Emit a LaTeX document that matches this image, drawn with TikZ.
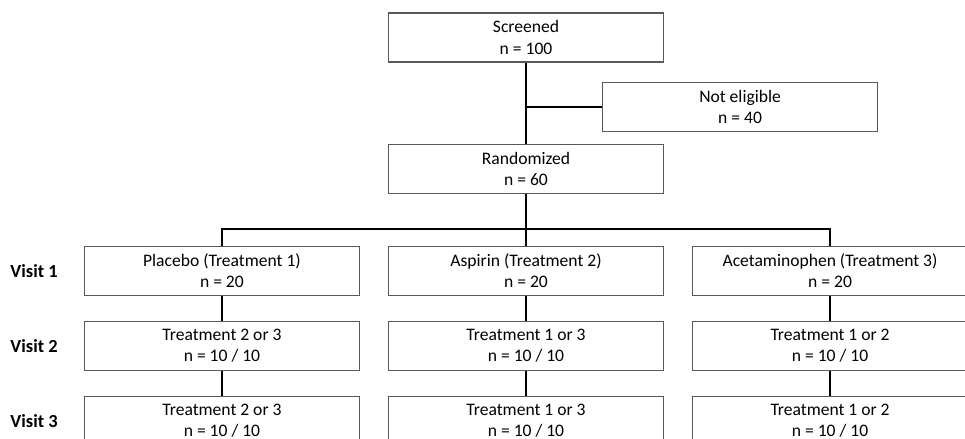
\documentclass[tikz,border=0pt]{standalone}
\usepackage{fontspec}
\setmainfont{Carlito}
\usetikzlibrary{positioning}

\tikzset{
  box/.style={draw=black!65, line width=0.6pt, minimum width=5.5cm, minimum height=0.98cm,
    align=center, inner sep=2pt, font=\fontsize{10}{12}\selectfont},
  link/.style={line width=1.1pt},
  visit/.style={font=\fontsize{10.5}{12}\selectfont\bfseries}
}

\begin{document}
\begin{tikzpicture}
\useasboundingbox (0,0) rectangle (19.3,-8.78);

% enrolment
\node[box] (screened) at (10.52,-0.75) {Screened\\n = 100};
\node[box, below right=0.38cm and -1.24cm of screened] (noteligible) {Not eligible\\n = 40};
\node[box, below=1.62cm of screened] (random) {Randomized\\n = 60};

% visit 1
\node[box, below=1.04cm of random] (aspirin1) {Aspirin (Treatment 2)\\n = 20};
\node[box, left=0.56cm of aspirin1] (placebo1) {Placebo (Treatment 1)\\n = 20};
\node[box, right=0.56cm of aspirin1] (acet1) {Acetaminophen (Treatment 3)\\n = 20};

% visit 2
\node[box, below=0.5cm of placebo1] (placebo2) {Treatment 2 or 3\\n = 10 / 10};
\node[box, below=0.5cm of aspirin1] (aspirin2) {Treatment 1 or 3\\n = 10 / 10};
\node[box, below=0.5cm of acet1] (acet2) {Treatment 1 or 2\\n = 10 / 10};

% visit 3
\node[box, below=0.5cm of placebo2] (placebo3) {Treatment 2 or 3\\n = 10 / 10};
\node[box, below=0.5cm of aspirin2] (aspirin3) {Treatment 1 or 3\\n = 10 / 10};
\node[box, below=0.5cm of acet2] (acet3) {Treatment 1 or 2\\n = 10 / 10};

% row labels
\node[visit, left=0.4cm of placebo1] (visit1) {Visit 1};
\node[visit, left=0.4cm of placebo2] (visit2) {Visit 2};
\node[visit, left=0.4cm of placebo3] (visit3) {Visit 3};

% connectors
\coordinate[below=0.7cm of random] (bus);
\draw[link] (screened) -- (random);
\draw[link] (noteligible.west) -- (noteligible.west -| screened);
\draw[link] (random) -- (bus);
\draw[link] (placebo1.north) |- (bus) -| (acet1.north);
\draw[link] (bus) -- (aspirin1);
\foreach \arm in {placebo,aspirin,acet}{
  \draw[link] (\arm1) -- (\arm2);
  \draw[link] (\arm2) -- (\arm3);
}
\end{tikzpicture}
\end{document}
